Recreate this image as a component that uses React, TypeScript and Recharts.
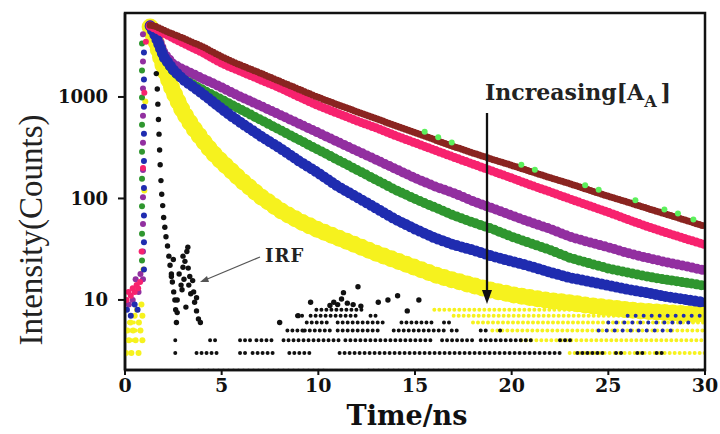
import React from "react";
import { ComposedChart, Line, Scatter, XAxis, YAxis } from "recharts";

// sample times (ns) shared by the decay bands
const times = [1.3, 1.6, 2, 2.5, 3, 3.5, 4, 4.5, 5, 5.5, 6, 7, 8, 9, 10, 11, 12, 13, 14, 15, 16, 17, 18, 19, 20, 21, 22, 23, 24, 25, 26, 27, 28, 29, 30];

const brownVals = [5100, 4950, 4550, 4150, 3800, 3450, 3150, 2800, 2500, 2250, 2050, 1720, 1430, 1190, 990, 840, 715, 610, 520, 445, 380, 325, 280, 243, 212, 184, 160, 140, 121, 105, 92, 80, 70, 61, 53];
const pinkVals = [5000, 4700, 4250, 3800, 3400, 3050, 2750, 2420, 2150, 1950, 1780, 1480, 1230, 1000, 820, 690, 580, 495, 415, 353, 300, 255, 218, 186, 159, 135, 116, 99, 85, 73, 62, 53, 46, 40, 35];
const purpleVals = [5100, 4300, 2700, 2100, 1870, 1690, 1520, 1380, 1240, 1110, 1000, 820, 668, 545, 444, 361, 294, 240, 195, 159, 132, 113, 94, 80, 68, 58, 50, 42, 37, 33, 29, 26, 23.5, 21.5, 19.5];
const greenVals = [5000, 4000, 2450, 1800, 1490, 1330, 1180, 1050, 940, 840, 750, 597, 475, 378, 301, 240, 191, 152, 121, 99, 82, 68, 58, 50, 42, 36, 31, 26, 23, 20.4, 18.6, 17, 15.8, 14.8, 13.8];
const blueVals = [5000, 3900, 2500, 1850, 1490, 1270, 1080, 910, 767, 650, 557, 414, 315, 234, 178, 132, 103, 80, 62, 50, 41, 35, 31, 27, 24, 21.4, 18.7, 16.6, 15.2, 13.9, 12.7, 11.8, 10.8, 10.1, 9.4];
const yellowVals = [4900, 3500, 1950, 1130, 716, 508, 378, 288, 229, 187, 152, 105, 77, 60, 49, 41, 34.5, 28.8, 24.5, 20.9, 17.8, 15.6, 13.9, 12.4, 11.3, 10.5, 9.8, 9.4, 8.8, 8.4, 8.0, 7.7, 7.5, 7.3, 7.2];

// rising edge / baseline dots before the peak
const preYellow = [[0.05, 3], [0.12, 5], [0.2, 4], [0.28, 6], [0.33, 3], [0.42, 5], [0.5, 7], [0.55, 4], [0.62, 8], [0.7, 3], [0.72, 6], [0.8, 5], [0.85, 9], [0.9, 4], [0.9, 7], [0.95, 20], [1.0, 120], [1.05, 900]];
const prePink = [[0.08, 10], [0.18, 12], [0.3, 11], [0.4, 13], [0.5, 12], [0.6, 14], [0.68, 13], [0.78, 15], [0.86, 30], [0.93, 200], [1.0, 1100], [1.08, 3500]];
const prePurple = [[0.2, 9], [0.4, 10], [0.55, 16], [0.7, 12], [0.8, 18], [0.93, 4140], [0.93, 2240], [0.93, 1210], [0.93, 653], [0.93, 353], [0.93, 191], [0.93, 103], [0.93, 56], [0.93, 30], [0.93, 16]];
const preGreen = [[0.88, 3370], [0.88, 1820], [0.88, 986], [0.88, 532], [0.88, 288], [0.88, 156], [0.88, 84], [0.88, 45], [0.88, 24.5]];
const preBlue = [[0.1, 8], [0.3, 7], [0.5, 9], [0.65, 8], [0.98, 2750], [0.98, 1490], [0.98, 802], [0.98, 434], [0.98, 234], [0.98, 127], [0.98, 68], [0.98, 37], [0.98, 20]];

// light green dots sitting just above the brown decay
const limePts = [[15.5, 455], [16.2, 400], [16.9, 355], [20.5, 215], [21.2, 192], [23.8, 135], [24.5, 122], [26.4, 96], [27.9, 78], [28.6, 71], [29.4, 62]];

// instrument response function
const irfPts = [
  [1.62, 1700], [1.67, 1200], [1.7, 850], [1.73, 600], [1.76, 430], [1.79, 300], [1.82, 215], [1.86, 150], [1.9, 110], [1.95, 85],
  [2.0, 65], [2.06, 52], [2.12, 42], [2.2, 34], [2.27, 27], [2.33, 22], [2.4, 18], [2.45, 15], [2.52, 12], [2.58, 10], [2.62, 8], [2.66, 6],
  [2.5, 25], [2.4, 17], [2.7, 10], [2.7, 7.5], [2.95, 12.6], [2.8, 18], [2.9, 14], [3.0, 21], [3.05, 16], [3.1, 24], [3.2, 30], [3.27, 20.6],
  [3.3, 14], [3.35, 17], [3.4, 11.5], [3.5, 15.5], [3.55, 12], [3.6, 9.5], [3.7, 10.5], [3.7, 7.8], [3.8, 6.5], [3.9, 6], [3.15, 8.5], [3.25, 33], [3.0, 27],
  [8.0, 6], [8.95, 7], [11.3, 11.8], [12.05, 13.5], [9.6, 9.5], [13.1, 9.5], [13.6, 10], [14.1, 11], [14.6, 7.8], [15.2, 10],
  [10.8, 9.5], [11.0, 9], [11.5, 9.3], [11.8, 9], [10.6, 8.8], [12.2, 8.7], [11.2, 10.2],
];

// low-count rows: [counts, from ns, to ns]
const irfRows = [
  [2, 3.8, 10.4], [2, 12.6, 30],
  [3, 2.6, 2.7], [3, 3.7, 4.9], [3, 5.95, 6.3], [3, 6.6, 7.65], [3, 8.5, 9.7], [3, 11.1, 22.7], [3, 23.4, 24.7], [3, 25.4, 25.7], [3, 26.5, 26.9], [3, 27.5, 27.9],
  [4, 2.6, 2.7], [4, 4.4, 4.75], [4, 5.95, 6.6], [4, 6.8, 7.65], [4, 8.2, 11.1], [4, 11.4, 16.0], [4, 16.4, 18.2], [4, 18.4, 21.0], [4, 22.5, 23.2],
  [5, 8.4, 9.2], [5, 9.3, 10.6], [5, 11.0, 13.3], [5, 13.9, 16.5], [5, 16.9, 17.4], [5, 18.4, 18.8], [5, 19.4, 19.6],
  [6, 9.4, 10.6], [6, 11.0, 13.55], [6, 14.3, 15.9], [6, 16.5, 17.0],
  [7, 8.9, 9.4], [7, 9.6, 12.0], [7, 12.7, 13.0],
  [8, 9.9, 12.3],
];
const yellowRows = [
  [3, 0.0, 0.25], [3, 23.0, 30], [4, 0.1, 0.6], [4, 20.5, 30], [5, 0.3, 0.8], [5, 19.0, 30],
  [6, 0.2, 0.7], [6, 18.0, 30], [7, 17.0, 30], [8, 16.0, 30],
];
const blueRows = [[5, 24.5, 28.5], [6, 25.0, 29.5], [7, 26.0, 29.8]];

const C = {
  brown: "#8a2420",
  pink: "#f7226e",
  purple: "#922fa0",
  green: "#2f962f",
  blue: "#1f2cb0",
  yellow: "#f6f21e",
  lime: "#5cf05c",
  black: "#111",
};

const band = (vals: number[]) => times.map((t, i) => ({ t, v: vals[i] }));
const pts = (arr: number[][]) => arr.map(([t, v]) => ({ t, v }));
const rows = (segs: number[][]) =>
  segs.flatMap(([c, a, b]) => [{ t: a, v: c }, { t: b, v: c }, { t: b, v: null }]);

const dot = (fill: string, r: number) => (p: any) => <circle cx={p.cx} cy={p.cy} r={r} fill={fill} />;

const serif = "'DejaVu Serif', serif";

export default function App() {
  // a band = solid core + tightly packed beads for a slightly ragged edge
  const bandLine = (key: string, vals: number[], color: string, w: number) => [
    <Line
      key={key + "-core"}
      data={band(vals)}
      dataKey="v"
      type="linear"
      stroke={color}
      strokeWidth={w - 2}
      strokeLinejoin="round"
      dot={false}
      activeDot={false}
      legendType="none"
      isAnimationActive={false}
    />,
    <Line
      key={key + "-beads"}
      data={band(vals)}
      dataKey="v"
      type="linear"
      stroke={color}
      strokeWidth={w}
      strokeLinecap="round"
      strokeLinejoin="round"
      strokeDasharray={`0 ${Math.max(3, Math.round(w * 0.45))}`}
      dot={false}
      activeDot={false}
      legendType="none"
      isAnimationActive={false}
    />,
  ];
  const rowLine = (key: string, segs: number[][], color: string, w: number, gap: number) => (
    <Line
      key={key}
      data={rows(segs)}
      dataKey="v"
      type="linear"
      stroke={color}
      strokeWidth={w}
      strokeLinecap="round"
      strokeDasharray={`0 ${gap}`}
      dot={false}
      activeDot={false}
      legendType="none"
      isAnimationActive={false}
    />
  );
  const scatter = (key: string, arr: number[][], color: string, r: number) => (
    <Scatter key={key} data={pts(arr)} dataKey="v" shape={dot(color, r)} legendType="none" isAnimationActive={false} />
  );

  return (
    <div style={{ position: "absolute", left: 0, top: 0, width: 720, height: 434, background: "#fff" }}>
      <ComposedChart width={720} height={434} margin={{ top: 13, right: 15, bottom: 0, left: 0 }}>
        <XAxis
          dataKey="t"
          type="number"
          domain={[0, 30]}
          ticks={[0, 5, 10, 15, 20, 25, 30]}
          allowDataOverflow
          height={64}
          tickSize={5}
          tickMargin={4}
          axisLine={{ stroke: "#111", strokeWidth: 2.5 }}
          tickLine={{ stroke: "#111", strokeWidth: 2 }}
          tick={{ fill: "#111", fontSize: 19, fontWeight: 700, fontFamily: serif }}
        />
        <YAxis
          dataKey="v"
          type="number"
          scale="log"
          domain={[2.04, 6720]}
          ticks={[10, 100, 1000]}
          allowDataOverflow
          width={125}
          tickSize={7}
          tickMargin={10}
          axisLine={{ stroke: "#111", strokeWidth: 2.5 }}
          tickLine={{ stroke: "#111", strokeWidth: 2 }}
          tick={{ fill: "#111", fontSize: 18, fontWeight: 700, fontFamily: serif }}
        />
        {rowLine("yrows", yellowRows, C.yellow, 4, 5)}
        {scatter("preY", preYellow, C.yellow, 3)}
        {bandLine("yellow", yellowVals, C.yellow, 17)}
        {rowLine("brows", blueRows, C.blue, 4, 8)}
        {bandLine("purple", purpleVals, C.purple, 10)}
        {bandLine("green", greenVals, C.green, 10)}
        {bandLine("blue", blueVals, C.blue, 11)}
        {scatter("preP", prePurple, C.purple, 3)}
        {scatter("preG", preGreen, C.green, 3)}
        {scatter("preB", preBlue, C.blue, 3)}
        {bandLine("pink", pinkVals, C.pink, 9)}
        {scatter("prePk", prePink, C.pink, 3)}
        {scatter("lime", limePts, C.lime, 3)}
        {bandLine("brown", brownVals, C.brown, 7)}
        {rowLine("irows", irfRows, C.black, 4, 5)}
        {scatter("irf", irfPts, C.black, 2.7)}
      </ComposedChart>
      <svg width={720} height={434} style={{ position: "absolute", left: 0, top: 0, pointerEvents: "none" }}>
        <rect x={125} y={13} width={580} height={357} fill="none" stroke="#111" strokeWidth={2.5} />
        <text
          x={31}
          y={230}
          transform="rotate(-90 31 230)"
          textAnchor="middle"
          dominantBaseline="central"
          fontFamily="'Liberation Serif', serif"
          fontSize={33}
          fill="#222"
        >
          Intensity(Counts)
        </text>
        <text x={407} y={425} textAnchor="middle" fontFamily={serif} fontWeight={700} fontSize={27} fill="#111">
          Time/ns
        </text>
        <text x={485} y={100} fontFamily={serif} fontWeight={700} fontSize={22} fill="#222">
          Increasing[A
          <tspan dy={7} fontSize={16}>A</tspan>
          <tspan dy={-7} dx={4}>]</tspan>
        </text>
        <line x1={487} y1={113} x2={487} y2={292} stroke="#111" strokeWidth={2.3} />
        <polygon points="482,290 492,290 487,304" fill="#111" />
        <text x={265} y={262} fontFamily={serif} fontWeight={700} fontSize={18} letterSpacing={1} fill="#222">
          IRF
        </text>
        <line x1={260} y1={257} x2={205} y2={280} stroke="#555" strokeWidth={1.2} />
        <polygon points="200,282 207,276 209,282" fill="#555" />
      </svg>
    </div>
  );
}
